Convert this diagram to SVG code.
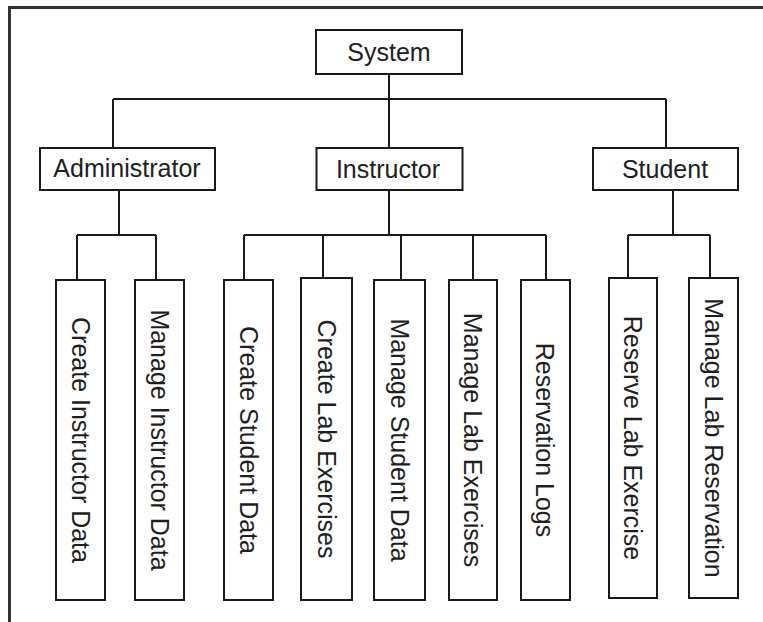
<svg xmlns="http://www.w3.org/2000/svg" width="763" height="622" viewBox="0 0 763 622">
  <style>
    .box { fill: #ffffff; stroke: #1a1a1a; stroke-width: 2; }
    .lbl { font-family: "Liberation Sans", Arial, sans-serif; font-size: 25px; fill: #1e1e1e; text-anchor: middle; }
    .wire { fill: none; stroke: #1a1a1a; stroke-width: 2; }
    .frame { fill: none; stroke: #333333; stroke-width: 3; }
  </style>
  <rect x="0" y="0" width="763" height="622" fill="#ffffff"/>
  <!-- outer frame: top and left edges only -->
  <path class="frame" d="M9.5 622 V7.5 H763"/>

  <!-- connectors -->
  <g id="connectors">
    <path class="wire" d="M389 74 V147 M113 99 H666 M113 99 V147 M666 99 V147"/>
    <path class="wire" d="M119 191 V235 M77 235 H156 M77 235 V279 M156 235 V279"/>
    <path class="wire" d="M389 191 V235 M244 235 H546 M244 235 V279 M323 235 V277 M401 235 V279 M473 235 V279 M546 235 V279"/>
    <path class="wire" d="M673 191 V235 M628 235 H710 M628 235 V277 M710 235 V277"/>
  </g>

  <!-- root -->
  <g id="system">
    <rect class="box" x="316" y="30" width="146" height="44"/>
    <text class="lbl" x="389" y="61">System</text>
  </g>

  <!-- roles -->
  <g id="administrator">
    <rect class="box" x="40" y="148" width="175" height="42"/>
    <text class="lbl" x="127" y="177">Administrator</text>
  </g>
  <g id="instructor">
    <rect class="box" x="316.5" y="148" width="146" height="42"/>
    <text class="lbl" x="388" y="178">Instructor</text>
  </g>
  <g id="student">
    <rect class="box" x="593" y="148" width="145" height="42"/>
    <text class="lbl" x="665" y="178">Student</text>
  </g>

  <!-- functions (vertical labels) -->
  <g id="create-instructor-data">
    <rect class="box" x="56" y="280" width="49" height="320"/>
    <text class="lbl" transform="translate(71.5 440) rotate(90)">Create Instructor Data</text>
  </g>
  <g id="manage-instructor-data">
    <rect class="box" x="135" y="280" width="49" height="320"/>
    <text class="lbl" transform="translate(150.5 440) rotate(90)">Manage Instructor Data</text>
  </g>
  <g id="create-student-data">
    <rect class="box" x="224" y="280" width="49" height="320"/>
    <text class="lbl" transform="translate(239.5 440) rotate(90)">Create Student Data</text>
  </g>
  <g id="create-lab-exercises">
    <rect class="box" x="301" y="278" width="51" height="322"/>
    <text class="lbl" transform="translate(317.5 439) rotate(90)">Create Lab Exercises</text>
  </g>
  <g id="manage-student-data">
    <rect class="box" x="374" y="280" width="51" height="320"/>
    <text class="lbl" transform="translate(390.5 440) rotate(90)">Manage Student Data</text>
  </g>
  <g id="manage-lab-exercises">
    <rect class="box" x="449" y="280" width="48" height="320"/>
    <text class="lbl" transform="translate(463.5 440) rotate(90)">Manage Lab Exercises</text>
  </g>
  <g id="reservation-logs">
    <rect class="box" x="521" y="280" width="49" height="320"/>
    <text class="lbl" transform="translate(535.5 440) rotate(90)">Reservation Logs</text>
  </g>
  <g id="reserve-lab-exercise">
    <rect class="box" x="609" y="278" width="48" height="320"/>
    <text class="lbl" transform="translate(624 438) rotate(90)">Reserve Lab Exercise</text>
  </g>
  <g id="manage-lab-reservation">
    <rect class="box" x="689" y="278" width="49" height="320"/>
    <text class="lbl" transform="translate(704.5 438) rotate(90)">Manage Lab Reservation</text>
  </g>
</svg>
